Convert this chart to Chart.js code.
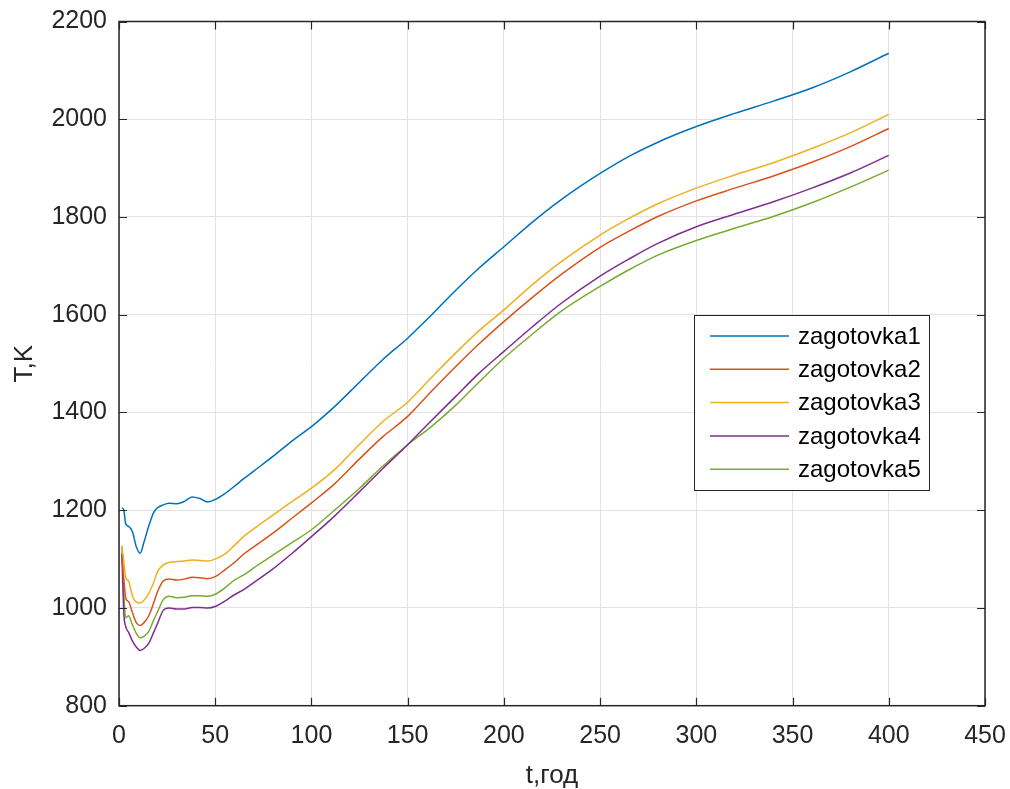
<!DOCTYPE html>
<html>
<head>
<meta charset="utf-8">
<script src="https://cdn.jsdelivr.net/npm/chart.js@4.4.1/dist/chart.umd.min.js"></script>
<style>
  html, body { margin: 0; padding: 0; background: #fff; }
  canvas { display: block; }
</style>
</head>
<body>
<canvas id="tempChart" width="1010" height="789"></canvas>
<script>
// time points (hours) shared by all five series
const timeHours = [1.5, 2.5, 3.5, 5, 7, 9, 11, 13, 15.5, 18, 20, 23, 26, 30, 34, 38, 42, 46, 50, 55,
    60, 65, 70, 80, 90, 100, 112, 125, 137, 150, 162, 175, 187, 200, 215, 230, 250, 265, 280, 300,
    320, 340, 360, 380, 400];

const zagotovka1 = [1205, 1200, 1172, 1167, 1156, 1125, 1112, 1135, 1168, 1195, 1205, 1211, 1214, 1213, 1218, 1227, 1224, 1217, 1222, 1234,
    1249, 1265, 1280, 1310, 1342, 1371, 1412, 1462, 1508, 1552, 1598, 1650, 1695, 1739, 1790, 1836, 1889, 1924, 1953, 1985,
    2012, 2037, 2064, 2097, 2135];
const zagotovka2 = [1100, 1060, 1020, 1013, 990, 970, 964, 970, 984, 1010, 1033, 1055, 1059, 1057, 1059, 1063, 1062, 1060, 1064, 1078,
    1093, 1111, 1125, 1153, 1184, 1215, 1254, 1305, 1350, 1392, 1442, 1494, 1540, 1586, 1636, 1683, 1738, 1771, 1801, 1833,
    1859, 1884, 1912, 1944, 1981];
const zagotovka3 = [1127, 1095, 1062, 1055, 1024, 1012, 1010, 1016, 1030, 1052, 1074, 1088, 1093, 1095, 1096, 1098, 1097, 1096, 1100, 1110,
    1128, 1147, 1162, 1190, 1218, 1245, 1283, 1335, 1381, 1421, 1470, 1522, 1567, 1610, 1662, 1709, 1763, 1797, 1827, 1859,
    1886, 1911, 1940, 1972, 2010];
const zagotovka4 = [1112, 990, 962, 950, 932, 920, 913, 917, 928, 950, 968, 995, 1000, 998, 998, 1001, 1001, 1000, 1003, 1014,
    1027, 1038, 1052, 1080, 1112, 1146, 1188, 1238, 1285, 1334, 1382, 1433, 1480, 1525, 1576, 1624, 1679, 1714, 1746, 1780,
    1806, 1831, 1859, 1890, 1926];
const zagotovka5 = [1127, 1030, 980, 984, 965, 948, 939, 942, 952, 975, 992, 1017, 1024, 1021, 1022, 1025, 1025, 1024, 1028, 1041,
    1057, 1068, 1082, 1108, 1134, 1160, 1200, 1245, 1290, 1334, 1370, 1415, 1462, 1511, 1561, 1608, 1658, 1692, 1722, 1752,
    1777, 1801, 1829, 1861, 1896];

const seriesNames = ['zagotovka1', 'zagotovka2', 'zagotovka3', 'zagotovka4', 'zagotovka5'];
const seriesValues = [zagotovka1, zagotovka2, zagotovka3, zagotovka4, zagotovka5];
const seriesColors = ['#0072BD', '#D95319', '#EDB120', '#7E2F8E', '#77AC30'];

const FONT = '"Liberation Sans", Arial, sans-serif';
const INK = '#262626';

// box around the plot, inner ticks on all four sides, legend inside
const matlabAxes = {
    id: 'matlabAxes',
    afterDraw(chart) {
        const c = chart.ctx;
        const a = chart.chartArea;
        const xs = chart.scales.x, ys = chart.scales.y;
        const tl = 8;
        c.save();
        c.strokeStyle = INK;
        c.lineWidth = 1.2;
        c.beginPath();
        xs.ticks.forEach(t => {
            const px = Math.round(xs.getPixelForValue(t.value)) + 0.5;
            c.moveTo(px, a.bottom); c.lineTo(px, a.bottom - tl);
            c.moveTo(px, a.top); c.lineTo(px, a.top + tl);
        });
        ys.ticks.forEach(t => {
            const py = Math.round(ys.getPixelForValue(t.value)) + 0.5;
            c.moveTo(a.left, py); c.lineTo(a.left + tl, py);
            c.moveTo(a.right, py); c.lineTo(a.right - tl, py);
        });
        c.stroke();
        c.lineWidth = 1.5;
        c.strokeRect(a.left, a.top, a.right - a.left, a.bottom - a.top);

        // legend
        const lx = 694, ly = 315, lw = 235, lh = 175;
        c.fillStyle = '#fff';
        c.fillRect(lx, ly, lw, lh);
        c.lineWidth = 1;
        c.strokeStyle = INK;
        c.strokeRect(lx + 0.5, ly + 0.5, lw, lh);
        c.font = '24px ' + FONT;
        c.textBaseline = 'middle';
        c.textAlign = 'left';
        chart.data.datasets.forEach((ds, i) => {
            const ry = 336 + i * 33.3;
            c.strokeStyle = ds.borderColor;
            c.lineWidth = 1.5;
            c.beginPath();
            c.moveTo(710, ry); c.lineTo(789, ry);
            c.stroke();
            c.fillStyle = '#000';
            c.fillText(ds.label, 798, ry + 1);
        });
        c.restore();
    }
};

const datasets = seriesNames.map((name, i) => ({
    label: name,
    data: timeHours.map((t, k) => ({ x: t, y: seriesValues[i][k] })),
    borderColor: seriesColors[i],
    backgroundColor: seriesColors[i],
    borderWidth: 1.5,
    pointRadius: 0,
    cubicInterpolationMode: 'monotone',
    fill: false
}));

new Chart(document.getElementById('tempChart').getContext('2d'), {
    type: 'line',
    data: { datasets: datasets },
    options: {
        responsive: false,
        animation: false,
        devicePixelRatio: 1,
        layout: { padding: { left: 0, top: 21.5, right: 25, bottom: 0 } },
        plugins: { legend: { display: false }, tooltip: { enabled: false } },
        scales: {
            x: {
                type: 'linear',
                min: 0, max: 450,
                border: { display: false },
                grid: { color: '#e3e3e3', lineWidth: 1, drawTicks: false },
                ticks: { stepSize: 50, padding: 15, color: INK, font: { family: FONT, size: 25 }, maxRotation: 0,
                    callback: v => String(v) },
                title: { display: true, text: 't,год', color: INK, font: { family: FONT, size: 26, lineHeight: 1 }, padding: { top: 0, bottom: 0 } },
                afterFit(s) { s.height = 83.3; s.paddingLeft = 0; s.paddingRight = 0; }
            },
            y: {
                type: 'linear',
                min: 800, max: 2200,
                border: { display: false },
                grid: { color: '#e3e3e3', lineWidth: 1, drawTicks: false },
                ticks: { stepSize: 200, padding: 12, color: INK, font: { family: FONT, size: 25 },
                    callback: v => String(v) },
                title: { display: true, text: 'T,K', color: INK, font: { family: FONT, size: 26, lineHeight: 1 }, padding: { top: 12, bottom: 0 } },
                afterFit(s) { s.width = 119; s.paddingTop = 0; s.paddingBottom = 0; }
            }
        }
    },
    plugins: [matlabAxes]
});
</script>
</body>
</html>
